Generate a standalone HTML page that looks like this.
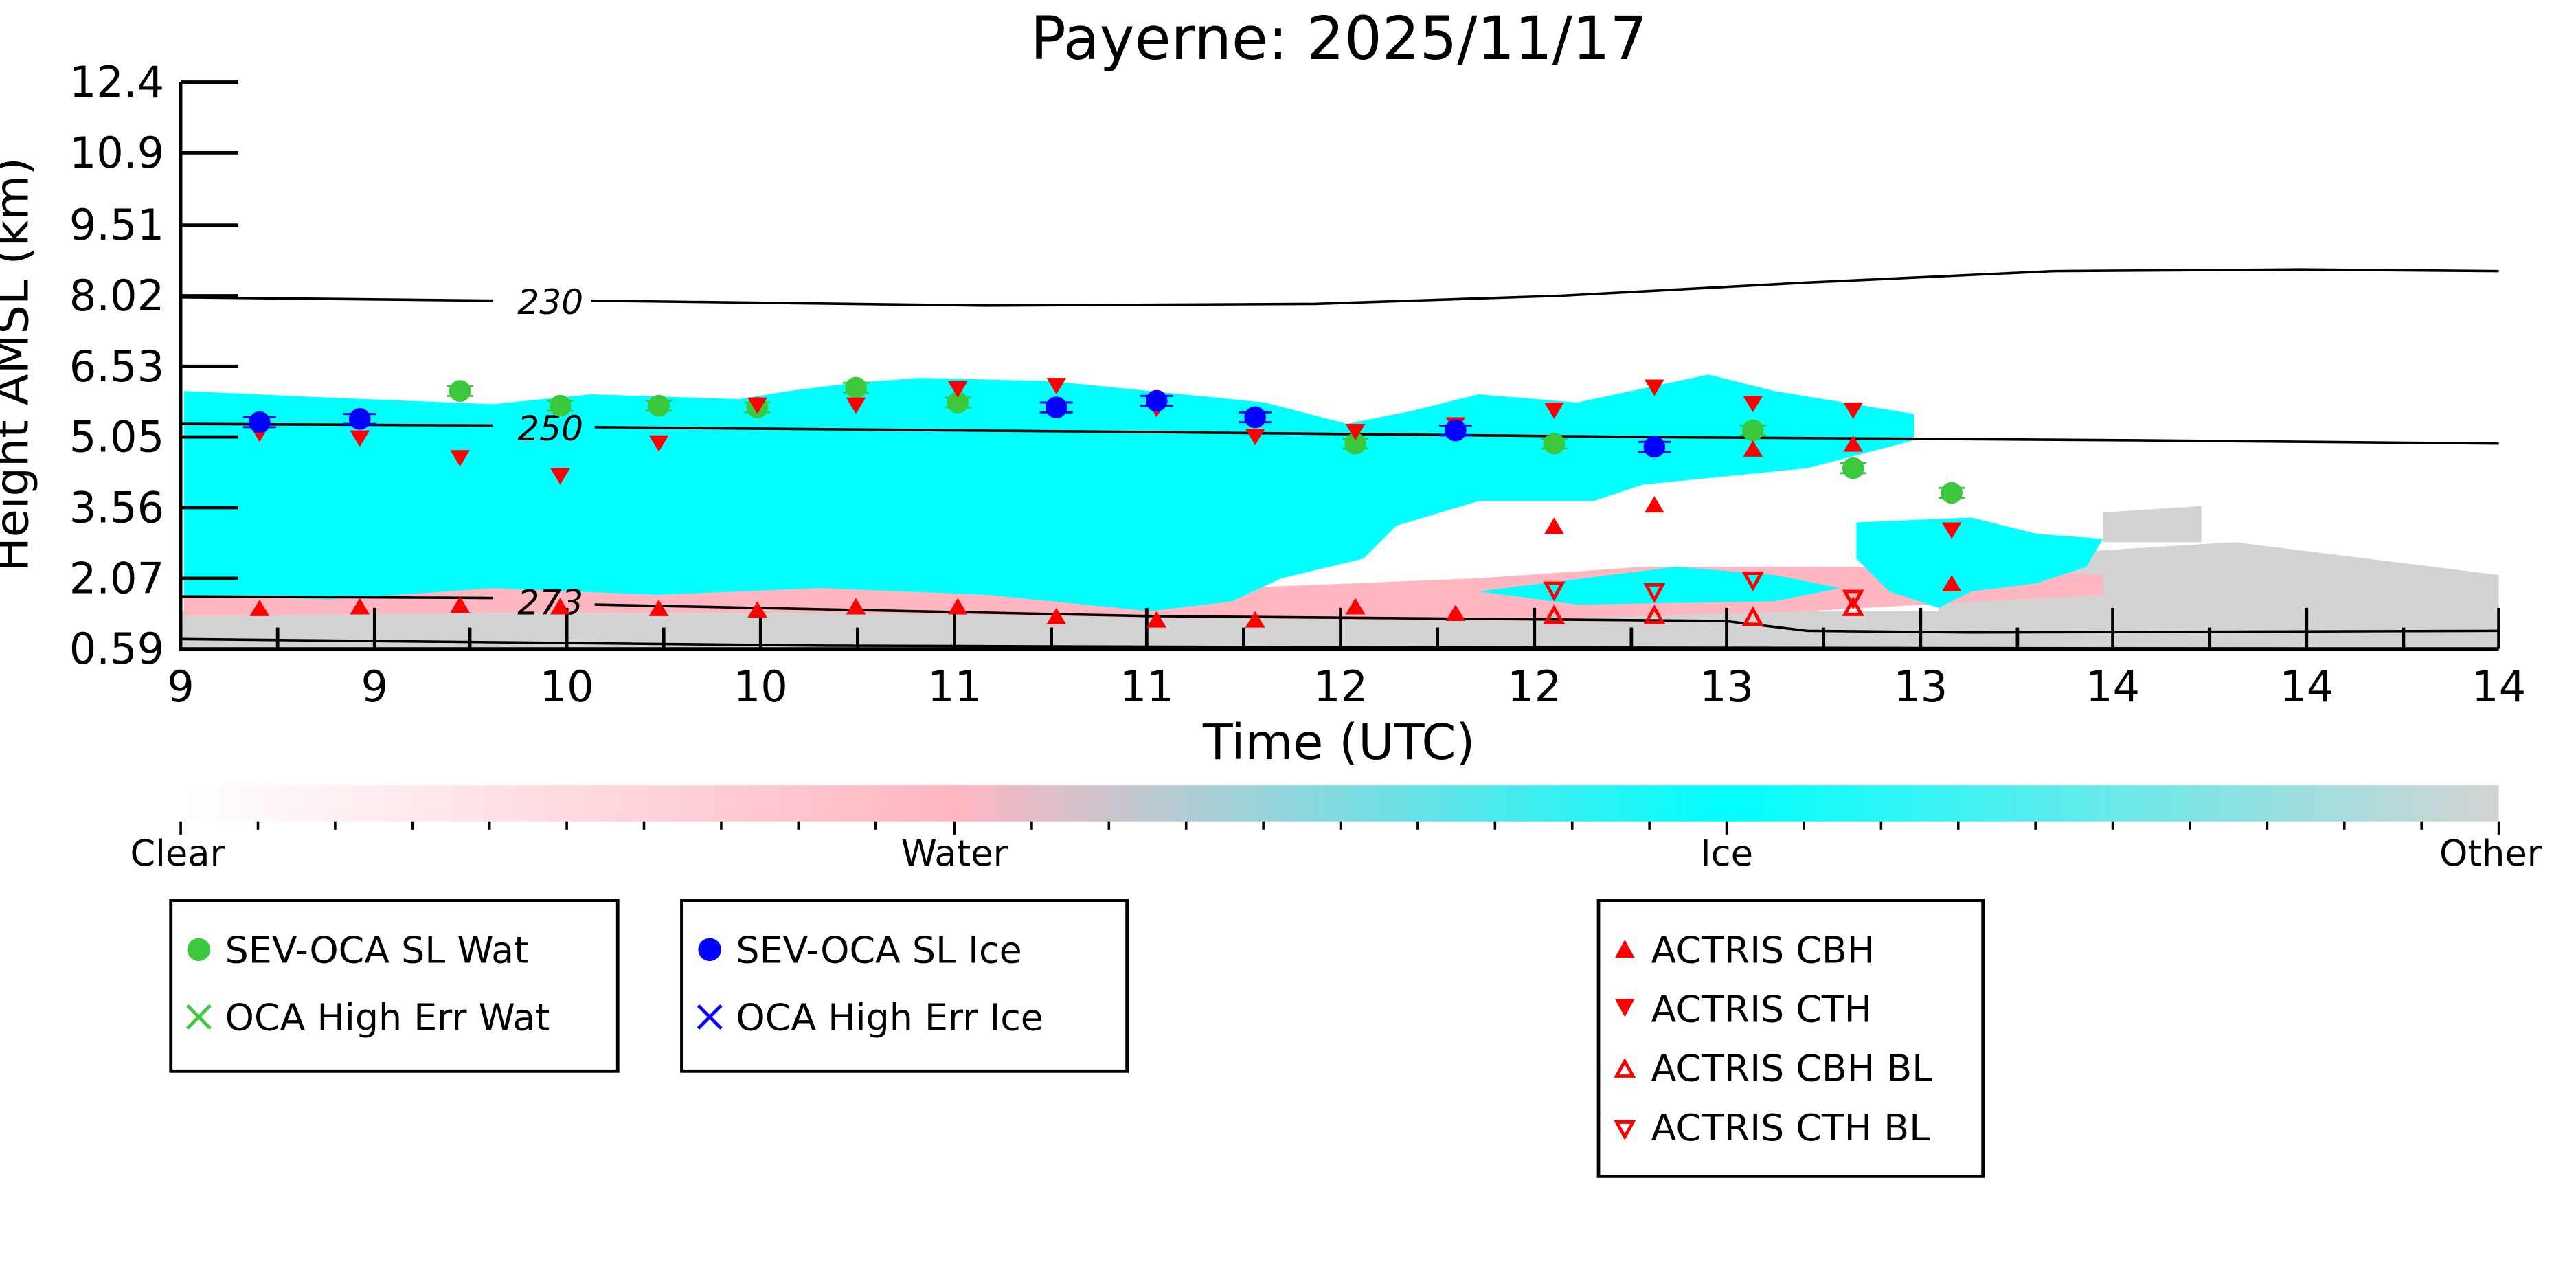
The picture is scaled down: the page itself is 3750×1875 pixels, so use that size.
<!DOCTYPE html>
<html><head><meta charset="utf-8"><style>html,body{margin:0;padding:0;background:#fff}svg{display:block}</style></head>
<body>
<svg width="3750" height="1875" viewBox="0 0 1568 784" xmlns="http://www.w3.org/2000/svg" font-family="'DejaVu Sans','Liberation Sans',sans-serif">
<defs>
<linearGradient id="cb" x1="0" x2="1">
<stop offset="0" stop-color="#ffffff"/><stop offset="0.333" stop-color="#ffb6c1"/><stop offset="0.667" stop-color="#00ffff"/><stop offset="1" stop-color="#d3d3d3"/>
</linearGradient>
</defs>
<text x="815" y="36" font-size="36" text-anchor="middle">Payerne: 2025/11/17</text>
<path d="M110,372 L1521,372 L1521,395 L110,395Z" fill="#d3d3d3"/>
<path d="M1180,345 L1280,335 L1360,330 L1521,350 L1521,395 L1180,395Z" fill="#d3d3d3"/>
<path d="M1280,312 L1340,308 L1340,330 L1280,330Z" fill="#d3d3d3"/>
<path d="M112,358 L300,355 500,352 700,360 900,352 1000,345 1100,345 1200,345 1280,350 1280,362 1100,372 900,378 700,376 500,373 300,373 112,375Z" fill="#ffb6c1"/>
<path d="M112,238 L200,242 300,246 360,240 450,243 480,238 520,233 560,230 640,232 700,238 770,245 820,258 860,250 900,240 960,245 1040,228 1080,238 1165,252 1165,268 1100,285 1000,295 970,305 900,305 850,320 830,340 780,352 750,366 700,372 600,362 500,358 400,362 300,358 200,365 112,362Z" fill="#00ffff"/>
<path d="M1130,318 L1200,315 1240,325 1280,328 1270,345 1240,355 1200,360 1180,370 1150,360 1130,340Z" fill="#00ffff"/>
<path d="M900,360 L1020,345 1080,350 1120,358 1080,366 960,368Z" fill="#00ffff"/>
<g fill="none" stroke="#000" stroke-width="1.5">
<path d="M110,181 L300,183 M360,183 L600,186 L800,185 L950,180 L1100,172 L1250,165 L1400,164 L1521,165"/>
<path d="M110,258 L300,259 M362,260 L700,263 L1000,266 L1300,268 L1521,270"/>
<path d="M110,363 L300,364 M362,368 L700,375 L1050,378 L1100,384 L1200,385 L1521,384"/>
<path d="M110,389 L500,393 L800,394 L1521,395"/>
</g>
<g font-size="21" font-style="italic" text-anchor="middle">
<text x="335" y="191">230</text><text x="335" y="268">250</text><text x="335" y="374">273</text>
</g>
<g stroke="#000" stroke-width="2" fill="none">
<path d="M110,50 L110,395 L1521,395"/>
</g>
<g stroke="#000" stroke-width="2">
<path d="M110,50H145M110,93H145M110,137H145M110,180H145M110,223H145M110,266H145M110,309H145M110,352H145"/>
<path d="M110,395V370M228,395V370M345,395V370M463,395V370M581,395V370M698,395V370M816,395V370M934,395V370M1051,395V370M1169,395V370M1286,395V370M1404,395V370M1521,395V370"/>
<path d="M169,395V382M286,395V382M404,395V382M522,395V382M640,395V382M757,395V382M875,395V382M993,395V382M1110,395V382M1228,395V382M1345,395V382M1463,395V382"/>
</g>
<g font-size="26" text-anchor="end">
<text x="100" y="59">12.4</text><text x="100" y="102">10.9</text><text x="100" y="146">9.51</text><text x="100" y="189">8.02</text><text x="100" y="232">6.53</text><text x="100" y="275">5.05</text><text x="100" y="318">3.56</text><text x="100" y="361">2.07</text><text x="100" y="404">0.59</text>
</g>
<g font-size="26" text-anchor="middle">
<text x="110" y="427">9</text><text x="228" y="427">9</text><text x="345" y="427">10</text><text x="463" y="427">10</text><text x="581" y="427">11</text><text x="698" y="427">11</text><text x="816" y="427">12</text><text x="934" y="427">12</text><text x="1051" y="427">13</text><text x="1169" y="427">13</text><text x="1286" y="427">14</text><text x="1404" y="427">14</text><text x="1521" y="427">14</text>
</g>
<text x="815" y="462" font-size="30" text-anchor="middle">Time (UTC)</text>
<text transform="translate(17,222) rotate(-90)" font-size="28" text-anchor="middle">Height AMSL (km)</text>
<rect x="110" y="478" width="1411" height="22" fill="url(#cb)"/>
<g stroke="#000" stroke-width="1.5">
<path d="M110,500V508M157,500V505M204,500V505M251,500V505M298,500V505M345,500V505M392,500V505M439,500V505M486,500V505M533,500V505M581,500V508M628,500V505M675,500V505M722,500V505M769,500V505M816,500V505M863,500V505M910,500V505M957,500V505M1004,500V505M1051,500V508M1098,500V505M1145,500V505M1192,500V505M1239,500V505M1286,500V505M1333,500V505M1380,500V505M1427,500V505M1474,500V505M1521,500V508"/>
</g>
<g font-size="22" text-anchor="middle">
<text x="108" y="527">Clear</text><text x="581" y="527">Water</text><text x="1051" y="527">Ice</text><text x="1516" y="527">Other</text>
</g>
<g fill="#fff" stroke="#000" stroke-width="2">
<rect x="104" y="548" width="272" height="104"/><rect x="415" y="548" width="271" height="104"/><rect x="973" y="548" width="234" height="168"/>
</g>
<g font-size="22.5">
<circle cx="121" cy="578" r="7" fill="#3cc83c"/><text x="137" y="586">SEV-OCA SL Wat</text>
<path d="M114,612L128,626M128,612L114,626" stroke="#3cc83c" stroke-width="2"/><text x="137" y="627">OCA High Err Wat</text>
<circle cx="432" cy="578" r="7" fill="#0000ff"/><text x="448" y="586">SEV-OCA SL Ice</text>
<path d="M425,612L439,626M439,612L425,626" stroke="#0000ff" stroke-width="2"/><text x="448" y="627">OCA High Err Ice</text>
<path d="M983,583L995,583L989,572Z" fill="#ff0000"/><text x="1005" y="586">ACTRIS CBH</text>
<path d="M983,608L995,608L989,619Z" fill="#ff0000"/><text x="1005" y="622">ACTRIS CTH</text>
<path d="M984,655L994,655L989,646Z" fill="none" stroke="#ff0000" stroke-width="2"/><text x="1005" y="658">ACTRIS CBH BL</text>
<path d="M984,683L994,683L989,692Z" fill="none" stroke="#ff0000" stroke-width="2"/><text x="1005" y="694">ACTRIS CTH BL</text>
</g>
<g fill="#3cc83c" stroke="#3cc83c" stroke-width="1.2">
<circle cx="280" cy="238" r="6"/><path d="M272,235H288M272,241H288"/>
<circle cx="341" cy="247" r="6"/><path d="M333,244H349M333,250H349"/>
<circle cx="401" cy="247" r="6"/><path d="M393,244H409M393,250H409"/>
<circle cx="461" cy="248" r="6"/><path d="M453,245H469M453,251H469"/>
<circle cx="521" cy="236" r="6"/><path d="M513,233H529M513,239H529"/>
<circle cx="583" cy="245" r="6"/><path d="M575,242H591M575,248H591"/>
<circle cx="825" cy="270" r="6"/><path d="M817,267H833M817,273H833"/>
<circle cx="946" cy="270" r="6"/><path d="M938,267H954M938,273H954"/>
<circle cx="1067" cy="262" r="6"/><path d="M1059,259H1075M1059,265H1075"/>
<circle cx="1128" cy="285" r="6"/><path d="M1120,282H1136M1120,288H1136"/>
<circle cx="1188" cy="300" r="6"/><path d="M1180,297H1196M1180,303H1196"/>
</g>
<g fill="#ff0000">
<path d="M152,259h12l-6,10z M213,262h12l-6,10z M274,274h12l-6,10z M335,285h12l-6,10z M395,265h12l-6,10z M455,242h12l-6,10z M515,242h12l-6,10z M577,232h12l-6,10z M637,230h12l-6,10z M698,244h12l-6,10z M758,261h12l-6,10z M819,258h12l-6,10z M880,254h12l-6,10z M940,245h12l-6,10z M1001,231h12l-6,10z M1061,241h12l-6,10z M1122,245h12l-6,10z M1182,318h12l-6,10z"/>
<path d="M152,375h12l-6,-10z M213,374h12l-6,-10z M274,373h12l-6,-10z M335,374h12l-6,-10z M395,375h12l-6,-10z M455,376h12l-6,-10z M515,374h12l-6,-10z M577,374h12l-6,-10z M637,380h12l-6,-10z M698,382h12l-6,-10z M758,382h12l-6,-10z M819,374h12l-6,-10z M880,378h12l-6,-10z M940,325h12l-6,-10z M1001,312h12l-6,-10z M1061,278h12l-6,-10z M1122,275h12l-6,-10z M1182,360h12l-6,-10z"/>
</g>
<g fill="#0000ff" stroke="#0000ff" stroke-width="1.2">
<circle cx="158" cy="257" r="6"/><path d="M148,254H168M148,260H168"/>
<circle cx="219" cy="255" r="6"/><path d="M209,252H229M209,258H229"/>
<circle cx="643" cy="248" r="6"/><path d="M633,245H653M633,251H653"/>
<circle cx="704" cy="244" r="6"/><path d="M694,241H714M694,247H714"/>
<circle cx="764" cy="254" r="6"/><path d="M754,251H774M754,257H774"/>
<circle cx="886" cy="262" r="6"/><path d="M876,259H896M876,265H896"/>
<circle cx="1007" cy="272" r="6"/><path d="M997,269H1017M997,275H1017"/>
</g>
<g fill="none" stroke="#ff0000" stroke-width="2">
<path d="M941,355h10l-5,9z M1002,356h10l-5,9z M1062,349h10l-5,9z M1123,360h10l-5,9z"/>
<path d="M941,379h10l-5,-9z M1002,379h10l-5,-9z M1062,380h10l-5,-9z M1123,374h10l-5,-9z"/>
</g>
</svg>
</body></html>
